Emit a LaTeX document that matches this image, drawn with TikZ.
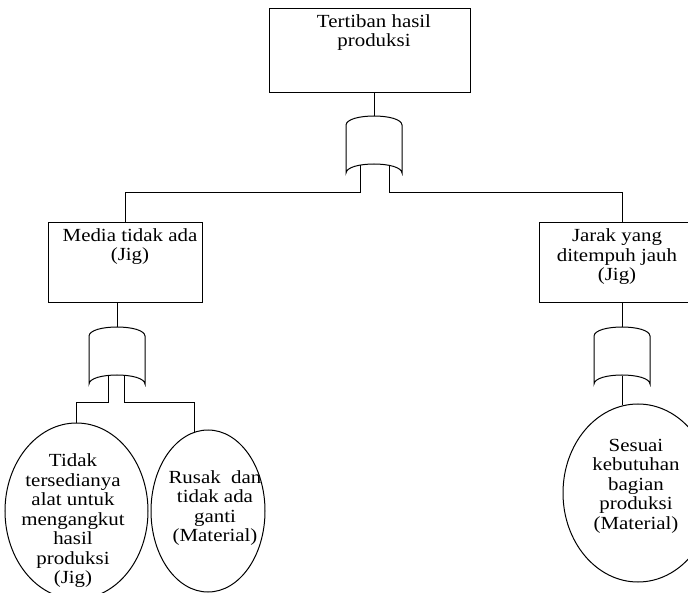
\documentclass[tikz,border=0pt]{standalone}
\usepackage{fontspec}
\setmainfont{Liberation Serif}[FakeStretch=1.13]
\usetikzlibrary{positioning,shapes.geometric,calc}

\begin{document}
\begin{tikzpicture}[x=1pt,y=1pt,line width=1pt]
    % Node styles
    \tikzset{
      event box/.style={draw,inner sep=0pt},
      event text/.style={inner sep=0pt,align=center,font=\fontsize{18.5}{19.5}\selectfont},
      basic event/.style={draw,ellipse,inner sep=0pt},
      or gate/.pic={
        \draw (-28,-9) .. controls (-27,3) and (27,3) .. (28,-9)
          -- (28,-57) .. controls (27,-45) and (-27,-45) .. (-28,-57) -- cycle;
        \coordinate (-in) at (0,0);
        \coordinate (-out) at (0,-49);
      }
    }
    \useasboundingbox (0,0) rectangle (688,-593);

    % --- Top event ---
    \node[event box,minimum width=201pt,minimum height=84pt] (top) at (369.5,-51) {};
    \node[event text,below=5.5pt of top.north,xshift=4.5pt] (top text) {Tertiban hasil\\produksi};

    % --- Intermediate events ---
    \node[event box,minimum width=154pt,minimum height=80pt] (media) at (125,-263) {};
    \node[event text,below=5.5pt of media.north,xshift=5pt] (media text) {Media tidak ada\\(Jig)};

    \node[event box,minimum width=166pt,minimum height=80pt] (jarak) at (622,-263) {};
    \node[event text,below=6pt of jarak.north,xshift=-5pt] (jarak text) {Jarak yang\\ditempuh jauh\\(Jig)};

    % --- Gates ---
    \pic (g1) at (374,-116) {or gate};
    \pic (g2) at (117,-327) {or gate};
    \pic (g3) at (622,-327) {or gate};

    % --- Basic events ---
    \node[basic event,minimum width=143pt,minimum height=176pt] (e1) at (76.5,-511) {};
    \node[basic event,minimum width=114pt,minimum height=162pt] (e2) at (208,-511) {};
    \node[basic event,minimum width=150pt,minimum height=178pt] (e3) at (638,-493) {};

    \node[event text] (e1 text) at (73,-521) {Tidak\\tersedianya\\alat untuk\\mengangkut\\hasil\\produksi\\(Jig)};
    \node[event text] (e2 text) at (215,-508) {Rusak\ \ dan\\tidak ada\\ganti\\(Material)};
    \node[event text] (e3 text) at (636,-486) {Sesuai\\kebutuhan\\bagian\\produksi\\(Material)};

    % --- Connectors ---
    \draw (g1-in) -- (g1-in |- top.south);
    \draw ($(g1-out)+(-14,0)$) -- ++(0,-28) -| (media.north);
    \draw ($(g1-out)+(15,0)$) -- ++(0,-28) -| (jarak.north);

    \draw (g2-in) -- (g2-in |- media.south);
    \draw ($(g2-out)+(-9,0)$) -- ++(0,-27) -| (e1.north);
    \draw ($(g2-out)+(7,0)$) -- ++(0,-27) -| (e2.100);

    \draw (g3-in) -- (g3-in |- jarak.south);
    \draw (g3-out) -- (g3-out |- e3.100);

\end{tikzpicture}
\end{document}
